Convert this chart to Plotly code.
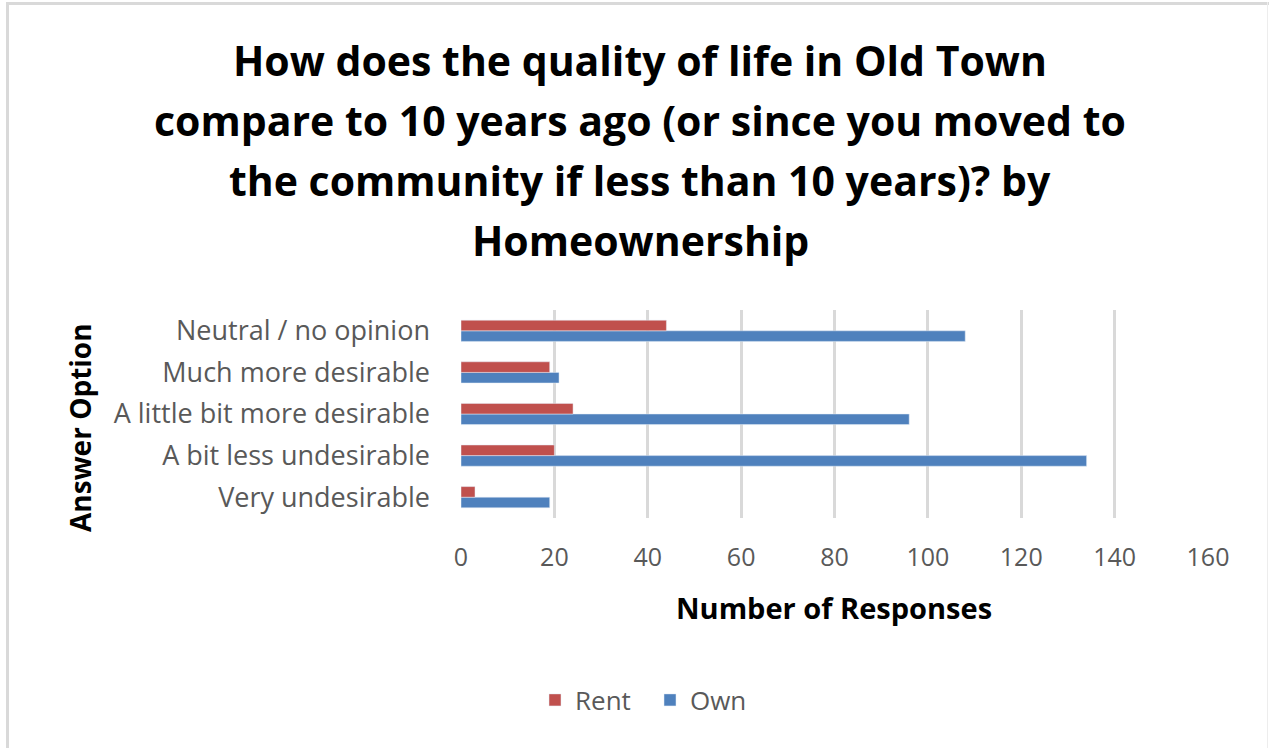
import plotly.graph_objects as go

# Survey answers (bottom to top on the chart)
categories = [
    "Very undesirable",
    "A bit less undesirable",
    "A little bit more desirable",
    "Much more desirable",
    "Neutral / no opinion",
]
rent = [3, 20, 24, 19, 44]
own = [19, 134, 96, 21, 108]

x_ticks = [0, 20, 40, 60, 80, 100, 120, 140, 160]

title_lines = [
    "How does the quality of life in Old Town",
    "compare to 10 years ago (or since you moved to",
    "the community if less than 10 years)? by",
    "Homeownership",
]

W, H = 1269, 748
L, R, T, B = 461, 1208, 310, 518  # plot-area edges in pixels

FONT = "Open Sans"
GREY = "#595959"


def px(x):
    return (x - L) / (R - L)


def py(y):
    return (B - y) / (B - T)


fig = go.Figure()
# Own first so that Rent sits above it inside each group
fig.add_trace(go.Bar(y=categories, x=own, name="Own", orientation="h",
                     marker=dict(color="#4F81BD")))
fig.add_trace(go.Bar(y=categories, x=rent, name="Rent", orientation="h",
                     marker=dict(color="#C0504D")))

annotations = []
for i, line in enumerate(title_lines):
    annotations.append(dict(
        text=f"<b>{line}</b>", x=px(640), y=py(60 + 60 * i),
        xref="paper", yref="paper", xanchor="center", yanchor="middle",
        showarrow=False, font=dict(family=FONT, size=41, color="#000000")))

annotations.append(dict(
    text="<b>Answer Option</b>", x=px(80), y=py(428), xref="paper", yref="paper",
    xanchor="center", yanchor="middle", textangle=-90, showarrow=False,
    font=dict(family=FONT, size=28, color="#000000")))
annotations.append(dict(
    text="<b>Number of Responses</b>", x=px(834), y=py(607), xref="paper",
    yref="paper", xanchor="center", yanchor="middle", showarrow=False,
    font=dict(family=FONT, size=29, color="#000000")))

# Light outer frame of the chart
frame = dict(type="rect", xref="paper", yref="paper", line=dict(width=0),
             fillcolor="#D9D9D9", layer="below")
shapes = [
    dict(frame, x0=px(6), x1=px(1269), y0=py(2), y1=py(5)),
    dict(frame, x0=px(6), x1=px(9), y0=py(2), y1=py(748)),
    dict(frame, x0=px(1267), x1=px(1268), y0=py(2), y1=py(748),
         fillcolor="#EDEDED"),
]

fig.update_layout(
    width=W, height=H,
    margin=dict(l=L, r=W - R, t=T, b=H - B, pad=0),
    paper_bgcolor="white", plot_bgcolor="white",
    barmode="group", bargap=0.49, bargroupgap=0,
    font=dict(family=FONT, size=26, color=GREY),
    showlegend=True,
    legend=dict(orientation="h", traceorder="reversed",
                x=px(535), y=py(700), xanchor="left", yanchor="middle",
                font=dict(family=FONT, size=26, color=GREY),
                itemwidth=30, entrywidth=70, entrywidthmode="pixels",
                bgcolor="rgba(0,0,0,0)"),
    annotations=annotations,
    shapes=shapes,
)

fig.update_xaxes(
    range=[0, 160], tickvals=x_ticks, ticktext=[str(v) for v in x_ticks],
    showgrid=True, gridcolor="#D9D9D9", gridwidth=2.5,
    zeroline=False, showline=False, ticks="",
    tickfont=dict(family=FONT, size=25, color=GREY),
    ticklabelstandoff=22, fixedrange=True,
)
fig.update_yaxes(
    type="category", categoryorder="array", categoryarray=categories,
    showgrid=False, zeroline=False, showline=False, ticks="",
    tickfont=dict(family=FONT, size=27, color=GREY),
    ticklabelstandoff=30, fixedrange=True,
)

fig.write_html("out.html")
